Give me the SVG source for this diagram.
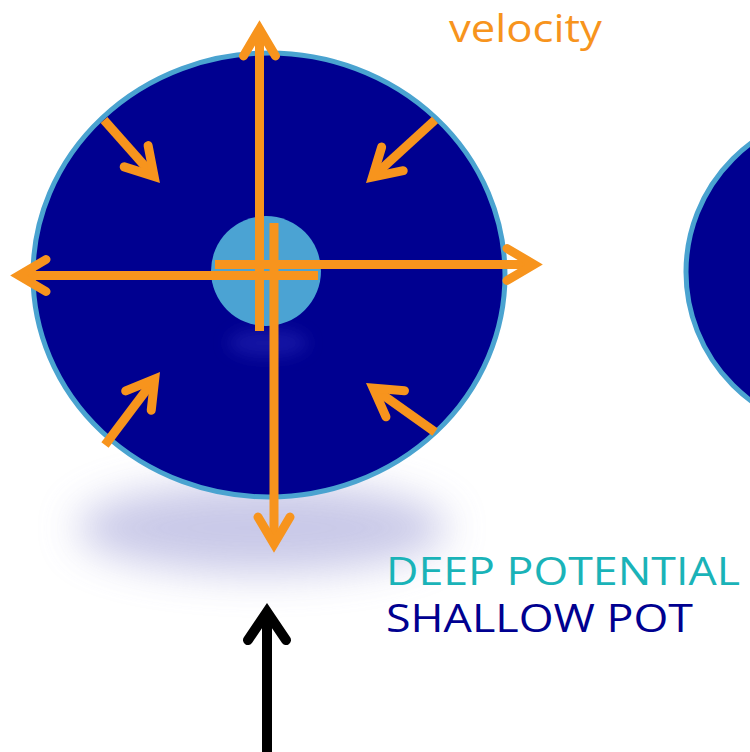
<svg xmlns="http://www.w3.org/2000/svg" width="750" height="752" viewBox="0 0 750 752">
<style>
.body{fill:#000090;stroke:#4aa3d0;stroke-width:5}
.core{fill:#4ba3d3}
.v{stroke:#f7941d;stroke-width:9;fill:none;stroke-linecap:butt}
.k{stroke:#000;stroke-width:10;fill:none}
.lbl{font-family:"Open Sans","Noto Sans","Liberation Sans",sans-serif}
</style>
<defs>
<marker id="ho" markerUnits="userSpaceOnUse" orient="auto" refX="0" refY="0" markerWidth="60" markerHeight="60" viewBox="-40 -30 60 60" overflow="visible">
<path d="M-27,-16 L0,0 L-27,16" fill="none" stroke="#f7941d" stroke-width="9" stroke-linecap="round" stroke-linejoin="miter"/>
</marker>
<marker id="hk" markerUnits="userSpaceOnUse" orient="auto" refX="0" refY="0" markerWidth="60" markerHeight="60" viewBox="-40 -30 60 60" overflow="visible">
<path d="M-28,-19 L0,0 L-28,19" fill="none" stroke="#000" stroke-width="10" stroke-linecap="round" stroke-linejoin="miter"/>
</marker>
<filter id="blur" x="-50%" y="-50%" width="200%" height="200%"><feGaussianBlur stdDeviation="20"/></filter>
<filter id="blur2" x="-50%" y="-50%" width="200%" height="200%"><feGaussianBlur stdDeviation="8"/></filter>
</defs>
<g id="shadow">
<ellipse cx="262" cy="528" rx="185" ry="45" fill="#c0c0e4" opacity="0.85" filter="url(#blur)"/>
</g>
<g id="deep-well">
<ellipse class="body" cx="269" cy="275" rx="236" ry="222"/>
<ellipse cx="268" cy="343" rx="40" ry="14" fill="#2a2ab8" opacity="0.5" filter="url(#blur2)"/>
<circle class="core" cx="266" cy="271" r="55"/>
</g>
<g id="shallow-well">
<circle class="body" cx="846" cy="272" r="160"/>
</g>
<g id="connectors">
<line class="v" x1="259.5" y1="331" x2="259.5" y2="29" marker-end="url(#ho)"/>
<line class="v" x1="274" y1="223" x2="274" y2="544" marker-end="url(#ho)"/>
<line class="v" x1="215" y1="264.5" x2="534" y2="264.5" marker-end="url(#ho)"/>
<line class="v" x1="318" y1="275.5" x2="19" y2="275.5" marker-end="url(#ho)"/>
<line class="v" x1="104" y1="120" x2="154.1" y2="176.4" marker-end="url(#ho)"/>
<line class="v" x1="435" y1="120" x2="372.5" y2="177.1" marker-end="url(#ho)"/>
<line class="v" x1="105" y1="445" x2="154.7" y2="379" marker-end="url(#ho)"/>
<line class="v" x1="435" y1="432" x2="373.2" y2="388.1" marker-end="url(#ho)"/>
<line class="k" x1="267" y1="752" x2="267" y2="612" marker-end="url(#hk)"/>
</g>
<g id="label-velocity">
<text class="lbl" x="449" y="42" font-size="39" fill="#f7941d" textLength="153" lengthAdjust="spacingAndGlyphs">velocity</text>
</g>
<g id="label-deep">
<text class="lbl" x="386" y="585" font-size="38" fill="#1ab3b8" textLength="354" lengthAdjust="spacingAndGlyphs">DEEP POTENTIAL</text>
</g>
<g id="label-shallow">
<text class="lbl" x="386" y="632" font-size="38" fill="#000090" textLength="307" lengthAdjust="spacingAndGlyphs">SHALLOW POT</text>
</g>
</svg>
